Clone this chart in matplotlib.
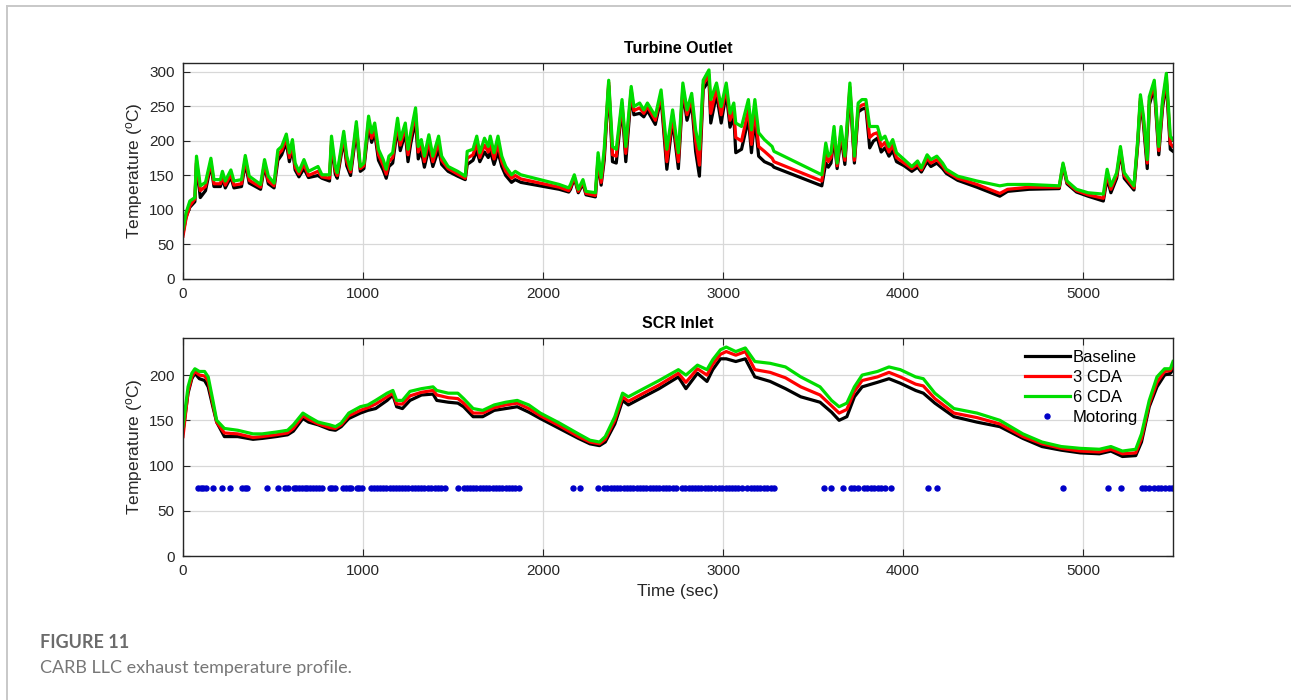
import matplotlib
matplotlib.use("Agg")
import matplotlib.pyplot as plt
from matplotlib.lines import Line2D

plt.rcParams["font.family"] = ["Liberation Sans", "DejaVu Sans"]
plt.rcParams["mathtext.fontset"] = "custom"
plt.rcParams["mathtext.rm"] = "Liberation Sans"
plt.rcParams["lines.solid_joinstyle"] = "round"

# turbine outlet temperature, sampled at the trace turning points
turb_t = [0, 17, 38, 66, 75, 96, 125, 155, 172, 208, 219, 235, 266, 283, 325, 346, 368,
          431, 453, 474, 506, 527, 548, 574, 591, 608, 623, 644, 672, 697, 750, 772,
          814, 825, 846, 857, 893, 910, 931, 963, 985, 1005, 1031, 1048, 1065, 1086,
          1112, 1129, 1144, 1165, 1192, 1207, 1235, 1250, 1265, 1292, 1307, 1324, 1341,
          1366, 1388, 1420, 1437, 1473, 1526, 1568, 1579, 1611, 1632, 1649, 1675, 1696,
          1707, 1728, 1750, 1771, 1793, 1825, 1846, 1877, 2090, 2143, 2153, 2174, 2196,
          2222, 2239, 2291, 2306, 2323, 2340, 2365, 2386, 2407, 2439, 2460, 2490, 2505,
          2537, 2560, 2580, 2624, 2656, 2688, 2720, 2752, 2777, 2800, 2826, 2848, 2869,
          2890, 2922, 2932, 2964, 2990, 3018, 3039, 3060, 3071, 3103, 3141, 3158, 3177,
          3198, 3230, 3273, 3283, 3549, 3571, 3585, 3600, 3617, 3634, 3656, 3677, 3705,
          3730, 3751, 3772, 3794, 3815, 3836, 3858, 3879, 3900, 3922, 3943, 3964, 4007,
          4049, 4081, 4102, 4134, 4155, 4188, 4220, 4241, 4304, 4411, 4538, 4581, 4700,
          4868, 4889, 4911, 4964, 5028, 5113, 5134, 5155, 5187, 5208, 5229, 5283, 5304,
          5319, 5336, 5357, 5368, 5396, 5421, 5442, 5463, 5485, 5500]
turb_cda6 = [72, 96, 113, 118, 178, 135, 140, 175, 144, 144, 156, 142, 158, 142, 144, 179, 149,
             137, 173, 149, 139, 187, 192, 210, 183, 202, 168, 156, 173, 156, 163, 151,
             151, 207, 163, 154, 214, 178, 159, 228, 163, 168, 236, 212, 226, 188,
             173, 159, 178, 183, 233, 202, 226, 188, 212, 248, 192, 202, 178,
             209, 178, 207, 178, 163, 156, 149, 185, 188, 207, 183, 204, 192,
             207, 183, 207, 178, 163, 151, 156, 151, 137, 132, 137, 151, 130,
             144, 127, 125, 183, 147, 188, 288, 192, 188, 260, 192, 279, 250,
             255, 245, 255, 236, 274, 188, 245, 183, 284, 245, 269, 216, 188,
             288, 303, 260, 284, 250, 284, 240, 255, 226, 221, 260, 216, 260,
             212, 202, 192, 185, 151, 197, 178, 183, 221, 168, 221, 178, 284,
             178, 255, 260, 260, 221, 221, 221, 202, 207, 192, 202, 183, 173,
             163, 171, 161, 180, 173, 178, 168, 159, 149, 142, 135, 137, 137,
             135, 168, 142, 130, 125, 123, 159, 135, 154, 192, 154, 135, 202,
             267, 236, 173, 264, 288, 192, 260, 298, 207, 202]
turb_cda3 = [62, 88, 106, 116, 172, 128, 134, 170, 138, 138, 150, 136, 152, 136, 138, 174, 143,
             133, 168, 142, 135, 180, 186, 204, 176, 196, 162, 152, 166, 150, 156, 148,
             146, 200, 157, 150, 208, 170, 155, 222, 160, 164, 230, 204, 218, 180,
             165, 152, 170, 176, 226, 194, 220, 180, 205, 240, 184, 195, 170,
             200, 170, 198, 172, 160, 152, 146, 175, 180, 196, 176, 194, 184,
             196, 174, 195, 170, 156, 146, 150, 145, 133, 128, 133, 148, 127,
             141, 124, 121, 176, 140, 180, 285, 180, 178, 255, 182, 274, 244,
             248, 240, 250, 230, 268, 170, 238, 170, 278, 238, 262, 200, 165,
             282, 296, 240, 276, 238, 278, 230, 245, 205, 200, 245, 195, 246,
             192, 185, 175, 170, 142, 182, 170, 176, 214, 164, 214, 172, 278,
             172, 248, 252, 254, 205, 210, 212, 192, 198, 184, 194, 176, 168,
             160, 166, 158, 175, 168, 173, 164, 156, 146, 137, 124, 130, 133,
             133, 166, 140, 128, 122, 117, 152, 130, 150, 188, 150, 132, 198,
             262, 230, 168, 258, 283, 186, 254, 292, 196, 192]
turb_base = [66, 90, 104, 112, 168, 118, 128, 166, 134, 134, 146, 132, 148, 132, 134, 168, 139,
             130, 164, 138, 132, 172, 180, 198, 170, 190, 158, 148, 160, 147, 150, 146,
             142, 194, 152, 146, 202, 164, 150, 215, 156, 160, 222, 198, 212, 172,
             158, 146, 163, 168, 220, 186, 212, 170, 196, 230, 174, 186, 162,
             190, 163, 188, 166, 156, 149, 144, 166, 172, 186, 170, 184, 176,
             186, 166, 184, 163, 150, 140, 144, 140, 130, 126, 130, 146, 125,
             138, 122, 119, 170, 136, 172, 280, 170, 168, 250, 170, 268, 238,
             240, 235, 244, 224, 262, 159, 230, 160, 272, 230, 255, 185, 149,
             275, 288, 226, 268, 226, 270, 220, 236, 183, 188, 232, 183, 232,
             178, 170, 165, 162, 135, 168, 162, 168, 206, 160, 206, 166, 272,
             168, 242, 246, 248, 190, 200, 204, 184, 190, 178, 186, 170, 164,
             156, 162, 155, 170, 163, 168, 160, 153, 143, 133, 120, 127, 130,
             131, 164, 138, 126, 120, 113, 146, 125, 146, 184, 146, 129, 194,
             258, 224, 160, 252, 278, 180, 248, 286, 188, 185]

# SCR inlet temperature
scr_t = [0, 28, 49, 66, 91, 120, 140, 166, 187, 230, 304, 389, 440, 517, 581, 613, 666,
         698, 751, 815, 847, 879, 921, 985, 1027, 1070, 1134, 1166, 1187, 1219, 1261,
         1325, 1389, 1410, 1474, 1527, 1559, 1612, 1665, 1729, 1793, 1857, 1921, 1985,
         2091, 2197, 2261, 2314, 2346, 2399, 2442, 2474, 2559, 2645, 2752, 2794, 2858,
         2911, 2943, 2986, 3018, 3071, 3124, 3177, 3262, 3347, 3432, 3539, 3603, 3645,
         3688, 3730, 3773, 3858, 3922, 3985, 4070, 4113, 4177, 4283, 4411, 4538, 4666,
         4772, 4879, 4985, 5091, 5155, 5219, 5293, 5325, 5368, 5411, 5453, 5485, 5500]
scr_cda6 = [143, 187, 202, 207, 204, 204, 198, 172, 150, 141, 139, 135, 135, 137, 139, 145, 158,
            154, 148, 145, 143, 147, 158, 165, 167, 172, 180, 183, 172, 172, 182,
            185, 187, 183, 180, 180, 174, 163, 161, 167, 170, 172, 167, 158,
            147, 135, 128, 126, 132, 154, 180, 176, 185, 194, 206, 200, 211,
            206, 217, 228, 231, 226, 230, 215, 213, 209, 198, 187, 172, 165,
            169, 187, 200, 204, 209, 206, 198, 196, 180, 163, 158, 150, 135,
            126, 121, 119, 118, 121, 116, 118, 135, 172, 198, 207, 207, 215]
scr_cda3 = [132, 182, 198, 204, 200, 199, 193, 168, 148, 136, 135, 131, 132, 134, 136, 141, 155,
            151, 146, 142, 141, 145, 155, 161, 164, 168, 176, 180, 168, 168, 177,
            181, 183, 178, 175, 174, 169, 158, 158, 164, 167, 169, 163, 155,
            144, 132, 126, 124, 129, 150, 176, 171, 180, 189, 202, 192, 207,
            200, 212, 223, 226, 222, 226, 206, 203, 197, 187, 178, 166, 158,
            162, 182, 194, 198, 203, 198, 190, 188, 174, 158, 153, 146, 132,
            124, 119, 116, 115, 118, 113, 114, 130, 168, 192, 204, 205, 210]
scr_base = [138, 180, 196, 202, 196, 194, 187, 165, 148, 132, 132, 129, 130, 132, 134, 138, 152,
            148, 145, 140, 139, 143, 152, 158, 161, 163, 172, 178, 165, 163, 172,
            178, 179, 172, 170, 169, 165, 154, 154, 161, 163, 165, 159, 152,
            141, 130, 124, 122, 126, 146, 172, 167, 176, 185, 198, 185, 202,
            193, 206, 218, 218, 215, 218, 198, 193, 185, 176, 170, 159, 150,
            154, 176, 187, 192, 196, 191, 183, 180, 169, 154, 148, 143, 130,
            121, 117, 114, 113, 116, 110, 111, 126, 165, 187, 200, 202, 206]

# time stamps flagged as motoring (no fuelling)
motoring_t = [85, 100, 112, 125, 166, 219, 262, 328, 342, 356, 464, 527, 564, 585,
              615, 630, 645, 660, 675, 690, 705, 720, 738, 755, 770, 815, 830, 845,
              890, 905, 920, 932, 965, 980, 995, 1042, 1060, 1078, 1095, 1112, 1130,
              1148, 1165, 1183, 1200, 1218, 1235, 1252, 1270, 1288, 1305, 1322, 1340,
              1360, 1380, 1400, 1418, 1435, 1453, 1527, 1559, 1577, 1595, 1613, 1630,
              1648, 1666, 1684, 1702, 1720, 1738, 1756, 1774, 1792, 1810, 1828, 1846,
              1867, 2165, 2208, 2304, 2340, 2358, 2376, 2394, 2412, 2430, 2448, 2466,
              2484, 2502, 2520, 2538, 2556, 2574, 2592, 2610, 2628, 2646, 2664, 2682,
              2700, 2720, 2741, 2773, 2791, 2809, 2827, 2845, 2862, 2879, 2900, 2918,
              2936, 2955, 2975, 2996, 3014, 3032, 3050, 3068, 3086, 3103, 3135, 3153,
              3171, 3189, 3207, 3225, 3245, 3265, 3283, 3560, 3600, 3666, 3709, 3730,
              3751, 3783, 3800, 3820, 3840, 3860, 3880, 3900, 3932, 4139, 4187, 4889,
              5138, 5213, 5325, 5345, 5365, 5395, 5415, 5435, 5455, 5475, 5495]
motoring_level = 75

labels = ["Baseline", "3 CDA", "6 CDA", "Motoring"]
colors = ["#000000", "#ff0000", "#00dd00"]

fig = plt.figure(figsize=(12.91, 7.0), dpi=100)

# outer page frame
fig.add_artist(Line2D([7.3 / 1291, 1], [1 - 5.7 / 700, 1 - 5.7 / 700],
                      color="#c8c8c8", lw=1.4))
fig.add_artist(Line2D([7.3 / 1291, 7.3 / 1291], [0, 1 - 5.7 / 700],
                      color="#c8c8c8", lw=1.4))

ax1 = fig.add_axes([183 / 1291, 1 - 279 / 700, 990 / 1291, 216 / 700])
ax2 = fig.add_axes([183 / 1291, 1 - 556 / 700, 990 / 1291, 218 / 700])


def style_axes(ax, ymax, yticks):
    ax.set_xlim(0, 5500)
    ax.set_ylim(0, ymax)
    ax.set_xticks([0, 1000, 2000, 3000, 4000, 5000])
    ax.set_yticks(yticks)
    ax.grid(True, color="#d8d8d8", lw=0.9)
    ax.set_axisbelow(True)
    ax.tick_params(direction="in", top=True, right=True, length=5,
                   labelsize=11, colors="#262626", pad=6)
    for s in ax.spines.values():
        s.set_color("#262626")
        s.set_linewidth(1.0)
    ax.set_ylabel(r"Temperature ($\mathregular{^{o}}$C)", fontsize=12.5,
                  color="#262626", labelpad=3)


ax1.plot(turb_t, turb_base, color=colors[0], lw=2.3)
ax1.plot(turb_t, turb_cda3, color=colors[1], lw=2.3)
ax1.plot(turb_t, turb_cda6, color=colors[2], lw=2.3)
style_axes(ax1, 313, [0, 50, 100, 150, 200, 250, 300])
ax1.set_title("Turbine Outlet", fontsize=11.5, fontweight="bold", pad=7)

ax2.plot(scr_t, scr_base, color=colors[0], lw=2.3, label=labels[0])
ax2.plot(scr_t, scr_cda3, color=colors[1], lw=2.3, label=labels[1])
ax2.plot(scr_t, scr_cda6, color=colors[2], lw=2.3, label=labels[2])
ax2.plot(motoring_t, [motoring_level] * len(motoring_t), ls="none", marker="o",
         ms=3.6, color="#0000c8", label=labels[3])
style_axes(ax2, 241, [0, 50, 100, 150, 200])
ax2.set_title("SCR Inlet", fontsize=11.5, fontweight="bold", pad=7)
ax2.set_xlabel("Time (sec)", fontsize=12.5, color="#262626", labelpad=4)

leg = ax2.legend(loc="upper right", bbox_to_anchor=(0.975, 0.99), fontsize=12,
                 frameon=False, handlelength=2.7, handletextpad=0.2,
                 labelspacing=0.3, borderaxespad=0.2)

fig.text(40 / 1291, 1 - 643 / 700, "FIGURE 11", fontsize=13, fontweight="bold",
         color="#6b6b6b", family=["Lato", "DejaVu Sans"], va="center")
fig.text(40 / 1291, 1 - 668 / 700, "CARB LLC exhaust temperature profile.",
         fontsize=13, color="#777777", family=["Lato", "DejaVu Sans"], va="center")

fig.savefig("out.png", dpi=100)
plt.close(fig)
